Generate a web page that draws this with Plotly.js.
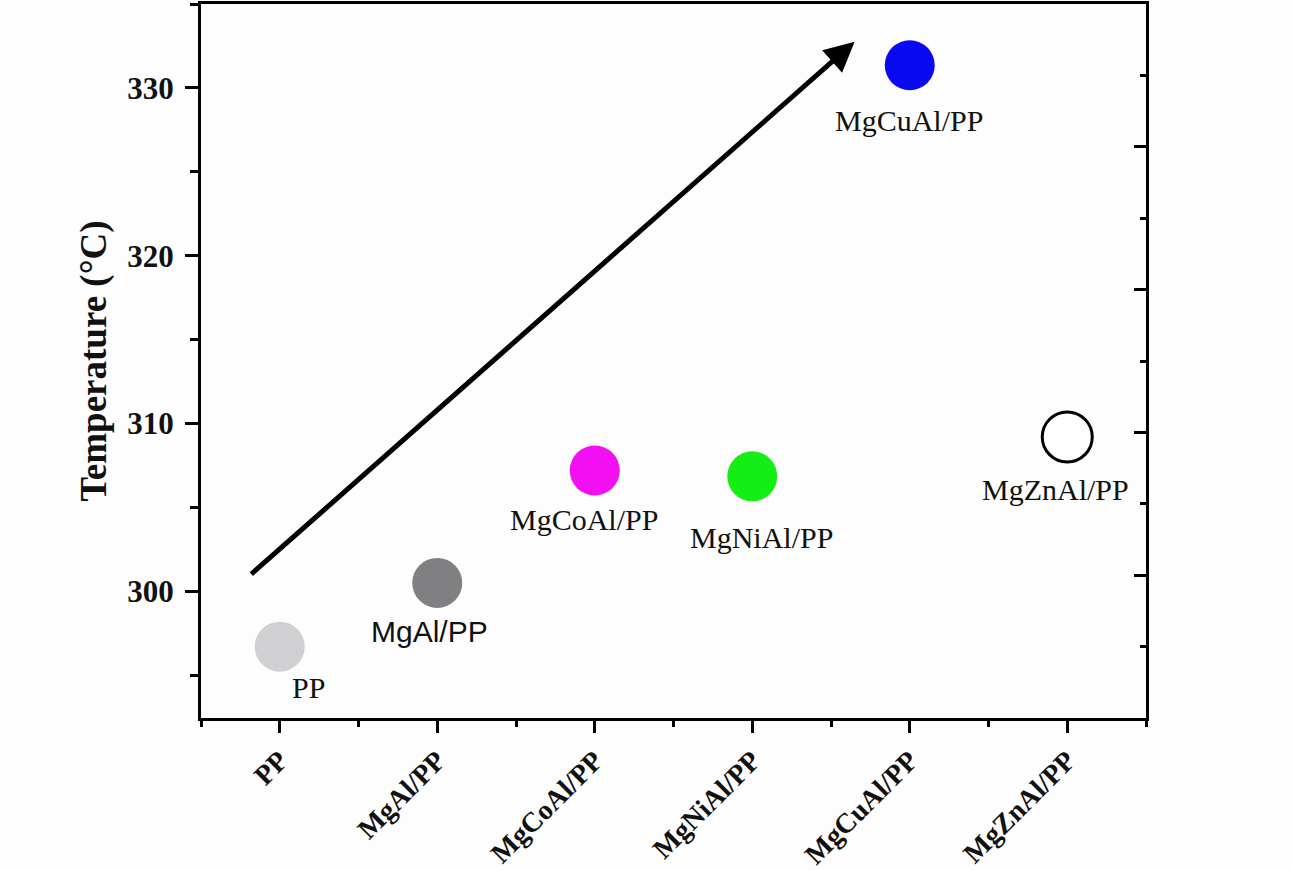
<!DOCTYPE html>
<html>
<head>
<meta charset="utf-8">
<script src="https://cdn.plot.ly/plotly-3.0.1.min.js"></script>
<style>html,body{margin:0;padding:0;background:#fdfdfe;}#chart{width:1292px;height:870px;}</style>
</head>
<body>
<div id="chart"></div>
<script>
const categories = ['PP', 'MgAl/PP', 'MgCoAl/PP', 'MgNiAl/PP', 'MgCuAl/PP', 'MgZnAl/PP'];
const temperatures = [296.7, 300.5, 307.2, 306.85, 331.35, 309.2];
const pointLabels = ['PP', 'MgAl/PP', 'MgCoAl/PP', 'MgNiAl/PP', 'MgCuAl/PP', 'MgZnAl/PP'];
const yTickVals = [300, 310, 320, 330];
const arrowStart = [-0.19, 300.95];
const arrowEnd = [3.65, 332.75];

const fillColors = ['#d0d0d2', '#808082', '#f20ff2', '#14ee14', '#0a0af2', '#ffffff'];
const lineColors = ['rgba(0,0,0,0)', 'rgba(0,0,0,0)', 'rgba(0,0,0,0)', 'rgba(0,0,0,0)', 'rgba(0,0,0,0)', '#000000'];
const lineWidths = [0, 0, 0, 0, 0, 3];
const labelShift = [[29, -41], [-8, -49], [-11, -49], [9, -61], [-1, -55], [-12, -53]];
const labelFamily = ['Liberation Serif', 'Liberation Sans', 'Liberation Serif', 'Liberation Serif', 'Liberation Serif', 'Liberation Serif'];

const xIdx = categories.map((c, i) => i);

const traces = [
  {
    type: 'scatter', mode: 'markers', x: xIdx, y: temperatures,
    marker: { size: 50, color: fillColors, line: { color: lineColors, width: lineWidths }, opacity: 1 },
    showlegend: false, hoverinfo: 'x+y'
  },
  { type: 'scatter', mode: 'markers', x: [], y: [], yaxis: 'y2', showlegend: false }
];

const annotations = categories.map((c, i) => ({
  x: xIdx[i], y: temperatures[i], xref: 'x', yref: 'y',
  text: pointLabels[i], showarrow: false,
  xshift: labelShift[i][0], yshift: labelShift[i][1],
  font: { family: labelFamily[i], size: 30, color: '#111' }
}));
annotations.push({
  x: arrowEnd[0], y: arrowEnd[1], ax: arrowStart[0], ay: arrowStart[1],
  xref: 'x', yref: 'y', axref: 'x', ayref: 'y', text: '',
  showarrow: true, arrowhead: 2, arrowsize: 1.2, arrowwidth: 5, arrowcolor: '#000'
});

const yTickFont = { family: 'Liberation Serif', size: 31, color: '#111', weight: 'bold' };
const xTickFont = { family: 'Liberation Serif', size: 28, color: '#111', weight: 'bold' };

const layout = {
  width: 1292, height: 870,
  margin: { l: 201, r: 146, t: 4, b: 152 },
  paper_bgcolor: '#fdfdfe', plot_bgcolor: '#fdfdfe',
  showlegend: false,
  xaxis: {
    range: [-0.5, 5.5], tickmode: 'array', tickvals: xIdx, ticktext: categories,
    tickangle: -45, tickfont: xTickFont,
    ticks: 'outside', ticklen: 12, tickwidth: 3, tickcolor: '#000',
    minor: { ticks: 'outside', ticklen: 6, tickwidth: 3, tickcolor: '#000', tick0: 0.5, dtick: 1, showgrid: false },
    showline: true, linewidth: 3, linecolor: '#000', mirror: true,
    showgrid: false, zeroline: false
  },
  yaxis: {
    range: [292.45, 335], tickmode: 'array', tickvals: yTickVals,
    tickfont: yTickFont, ticklabelstandoff: 5,
    ticks: 'outside', ticklen: 13, tickwidth: 3, tickcolor: '#000',
    minor: { ticks: 'outside', ticklen: 8, tickwidth: 3, tickcolor: '#000', tick0: 295, dtick: 10, showgrid: false },
    showline: true, linewidth: 3, linecolor: '#000',
    showgrid: false, zeroline: false,
    title: { text: 'Temperature (°C)', font: { family: 'Liberation Serif', size: 37, color: '#111', weight: 'bold' }, standoff: 10 }
  },
  yaxis2: {
    overlaying: 'y', side: 'right', range: [0, 5], tick0: 0, dtick: 1,
    showticklabels: false,
    ticks: 'inside', ticklen: 12, tickwidth: 3, tickcolor: '#000',
    minor: { ticks: 'inside', ticklen: 6, tickwidth: 3, tickcolor: '#000', tick0: 0.5, dtick: 1, showgrid: false },
    showline: true, linewidth: 3, linecolor: '#000',
    showgrid: false, zeroline: false
  },
  annotations: annotations
};

Plotly.newPlot('chart', traces, layout, { displayModeBar: false, staticPlot: true });
</script>
</body>
</html>
